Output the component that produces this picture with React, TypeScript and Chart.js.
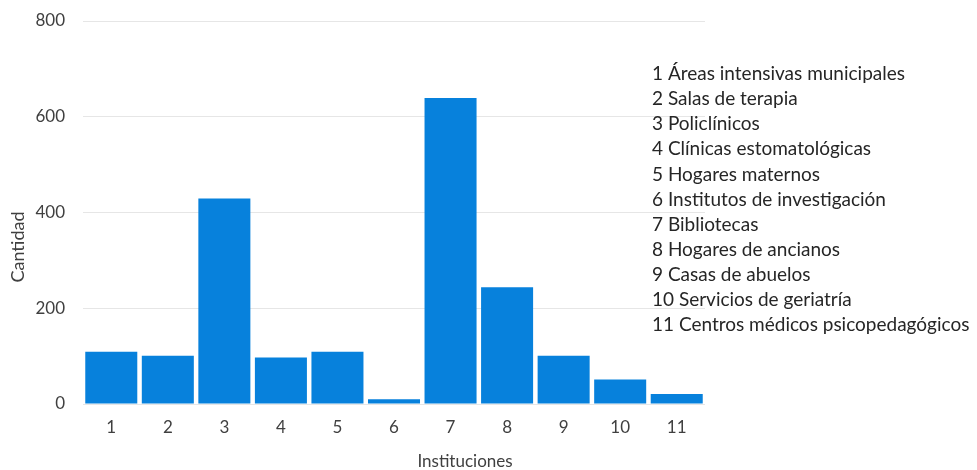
import React, { useEffect, useRef } from "react";
import { Chart, registerables } from "chart.js";

Chart.register(...registerables);

const categories = ["1", "2", "3", "4", "5", "6", "7", "8", "9", "10", "11"];
const cantidad = [109, 101, 429, 97, 109, 10, 639, 244, 101, 51, 21];
const keyLabels = [
  "1 Áreas intensivas municipales",
  "2 Salas de terapia",
  "3 Policlínicos",
  "4 Clínicas estomatológicas",
  "5 Hogares maternos",
  "6 Institutos de investigación",
  "7 Bibliotecas",
  "8 Hogares de ancianos",
  "9 Casas de abuelos",
  "10 Servicios de geriatría",
  "11 Centros médicos psicopedagógicos",
];
const yTitle = "Cantidad";
const xTitle = "Instituciones";

const FONT = "Lato, 'Open Sans', sans-serif";

const textPlugin = {
  id: "extraText",
  afterDraw(chart: any) {
    const ctx = chart.ctx;
    ctx.save();
    ctx.fillStyle = "#262626";
    ctx.font = `19px ${FONT}`;
    ctx.textAlign = "left";
    ctx.textBaseline = "middle";
    keyLabels.forEach((t, i) => {
      ctx.fillText(t, 652, 74 + i * 25.1);
    });
    ctx.fillStyle = "#404040";
    ctx.font = `17px ${FONT}`;
    ctx.textAlign = "center";
    ctx.fillText(xTitle, 465, 462);
    ctx.font = `18px ${FONT}`;
    ctx.translate(18, 247);
    ctx.rotate(-Math.PI / 2);
    ctx.fillText(yTitle, 0, 0);
    ctx.restore();
  },
};

export default function App() {
  const ref = useRef<HTMLCanvasElement>(null);
  useEffect(() => {
    if (!ref.current) return;
    const chart = new Chart(ref.current, {
      type: "bar",
      data: {
        labels: categories,
        datasets: [
          {
            label: yTitle,
            data: cantidad,
            backgroundColor: "#0781DC",
            borderWidth: 0,
            barPercentage: 0.92,
            categoryPercentage: 1,
          },
        ],
      },
      options: {
        responsive: false,
        animation: false,
        layout: { padding: { left: 0, right: 272, top: 21, bottom: 0 } },
        plugins: { legend: { display: false }, tooltip: { enabled: false } },
        scales: {
          x: {
            grid: { display: false, drawTicks: false },
            border: { display: false },
            ticks: { color: "#404040", font: { family: FONT, size: 17 }, padding: 13 },
            afterFit(scale: any) {
              scale.height = 66;
              scale.paddingLeft = 0;
              scale.paddingRight = 0;
            },
          },
          y: {
            min: 0,
            max: 800,
            grid: { color: "#e6e6e6", drawTicks: false, lineWidth: 1 },
            border: { display: false },
            ticks: {
              stepSize: 200,
              color: "#404040",
              font: { family: FONT, size: 17 },
              padding: 18,
            },
            afterFit(scale: any) {
              scale.width = 83;
              scale.paddingTop = 0;
              scale.paddingBottom = 0;
            },
          },
        },
      },
      plugins: [textPlugin],
    });
    return () => chart.destroy();
  }, []);
  return (
    <div style={{ position: "absolute", left: 0, top: 0, width: 977, height: 470, background: "#fff" }}>
      <canvas ref={ref} width={977} height={470} style={{ display: "block" }} />
    </div>
  );
}
